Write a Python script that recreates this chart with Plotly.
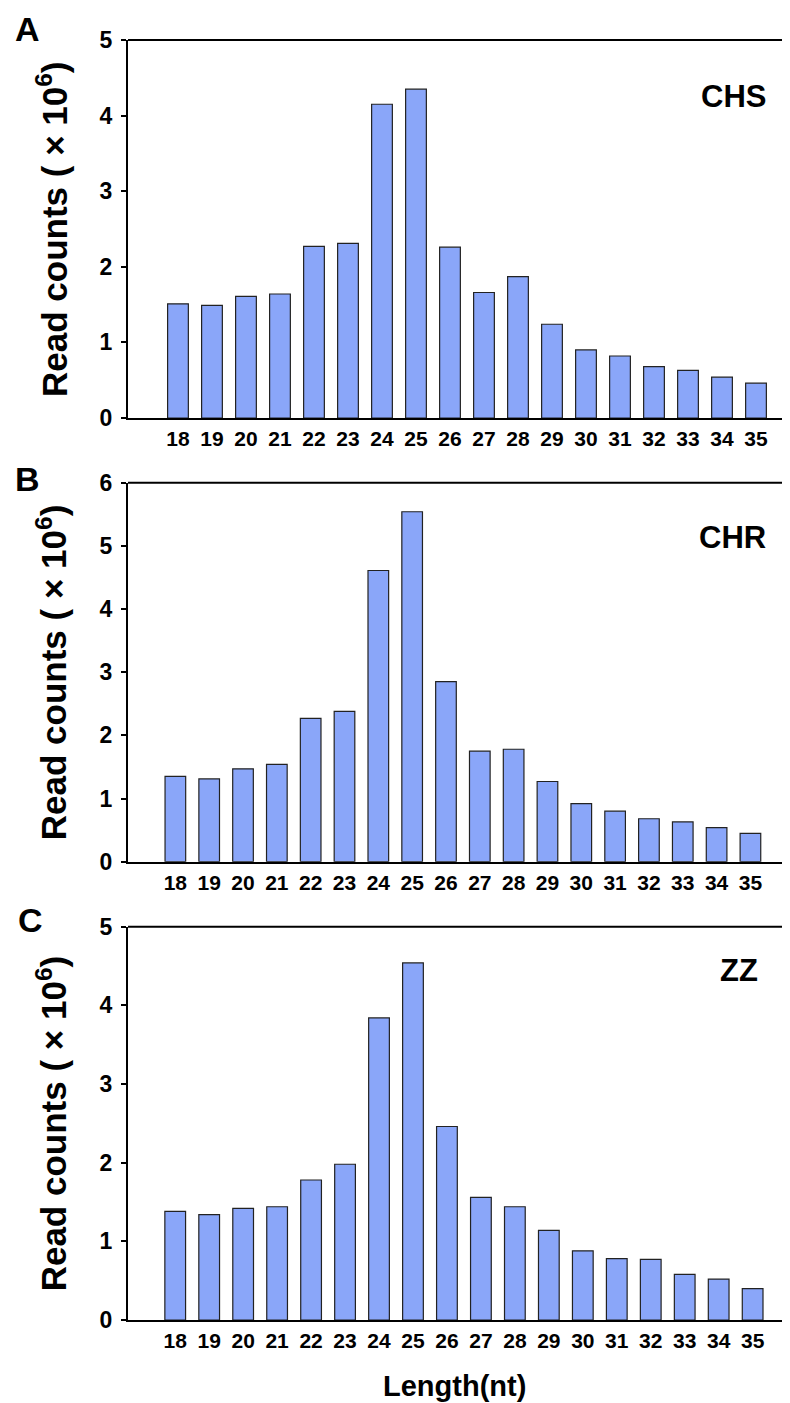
import plotly.graph_objects as go

lengths = list(range(18, 36))
tick_labels = [str(v) for v in lengths]

chs_counts = [1.51, 1.49, 1.61, 1.64, 2.27, 2.31, 4.15, 4.35, 2.26, 1.66, 1.87, 1.24, 0.90, 0.82, 0.68, 0.63, 0.54, 0.46]
chr_counts = [1.35, 1.31, 1.47, 1.54, 2.27, 2.38, 4.61, 5.54, 2.85, 1.75, 1.78, 1.27, 0.92, 0.80, 0.68, 0.63, 0.54, 0.45]
zz_counts = [1.38, 1.34, 1.42, 1.44, 1.78, 1.98, 3.84, 4.54, 2.46, 1.56, 1.44, 1.14, 0.88, 0.78, 0.77, 0.58, 0.52, 0.40]

panel_letters = ["A", "B", "C"]
sample_names = ["CHS", "CHR", "ZZ"]
y_max = [5, 6, 5]
series = [chs_counts, chr_counts, zz_counts]

OFF = 8  # page body margin
W, H = 790 - OFF, 1403 - OFF
FONT = "Liberation Sans, Arial, sans-serif"
BAR_COLOR = "#8AA6F9"

# pixel layout (window coords) of each panel: (top, bottom) of plot area, x range
panel_px = [(40, 418), (482.7, 861.7), (926.7, 1320)]
x_ranges = [[16.53, 36.0], [16.6, 36.17], [16.61, 36.1]]
letter_pos = [(27, 29), (27.5, 479), (30, 920)]
name_pos = [(768, 96.5), (768, 537.5), (760, 970.5)]


def px(x):
    return (x - OFF) / W


def py(y):
    return 1 - (y - OFF) / H


fig = go.Figure()
left = px(128)

for i in range(3):
    ax = "" if i == 0 else str(i + 1)
    top, bot = panel_px[i]
    dom = [py(bot), py(top)]
    fig.add_trace(go.Bar(
        x=lengths, y=series[i], width=0.61,
        marker=dict(color=BAR_COLOR, line=dict(color="#222222", width=1.2)),
        xaxis="x" + ax, yaxis="y" + ax, showlegend=False,
    ))
    fig.layout["xaxis" + ax] = dict(
        domain=[left, 1.0], range=x_ranges[i], anchor="y" + ax,
        tickmode="array", tickvals=lengths, ticktext=tick_labels,
        showline=True, linecolor="black", linewidth=2,
        ticks="", ticklabelstandoff=1,
        showgrid=False, zeroline=False, automargin=False,
        tickfont=dict(family=FONT, size=21, color="black", weight="bold"),
        fixedrange=True,
    )
    fig.layout["yaxis" + ax] = dict(
        domain=dom, range=[0, y_max[i]], anchor="x" + ax,
        tickmode="array", tickvals=list(range(0, y_max[i] + 1)),
        showline=True, linecolor="black", linewidth=2,
        ticks="outside", ticklen=5, tickwidth=2, tickcolor="black",
        ticklabelstandoff=4,
        showgrid=False, zeroline=False, automargin=False,
        tickfont=dict(family=FONT, size=23, color="black", weight="bold"),
        fixedrange=True,
    )
    # top frame line
    fig.add_shape(type="line", xref="x" + ax + " domain", yref="y" + ax + " domain",
                  x0=0, x1=1, y0=1, y1=1, line=dict(color="black", width=2))
    # y-axis title
    fig.add_annotation(
        text="Read counts ( × 10<sup>6</sup>)", textangle=-90,
        xref="paper", yref="paper", x=px(52), y=py((top + bot) / 2),
        xanchor="center", yanchor="middle", showarrow=False,
        font=dict(family=FONT, size=35, color="black", weight="bold"),
    )
    # panel letter
    fig.add_annotation(
        text=panel_letters[i], xref="paper", yref="paper",
        x=px(letter_pos[i][0]), y=py(letter_pos[i][1]),
        xanchor="center", yanchor="middle", showarrow=False,
        font=dict(family=FONT, size=34, color="black", weight="bold"),
    )
    # sample name
    fig.add_annotation(
        text=sample_names[i], xref="paper", yref="paper",
        x=px(name_pos[i][0]), y=py(name_pos[i][1]),
        xanchor="right", yanchor="middle", showarrow=False,
        font=dict(family=FONT, size=31, color="black", weight="bold"),
    )

fig.add_annotation(
    text="Length(nt)", xref="paper", yref="paper",
    x=px(454), y=py(1386), xanchor="center", yanchor="middle",
    showarrow=False, font=dict(family=FONT, size=29, color="black", weight="bold"),
)

fig.update_layout(
    width=W, height=H, margin=dict(l=0, r=0, t=0, b=0, autoexpand=False),
    paper_bgcolor="white", plot_bgcolor="white", bargap=0.39,
)

fig.write_html("out.html")
